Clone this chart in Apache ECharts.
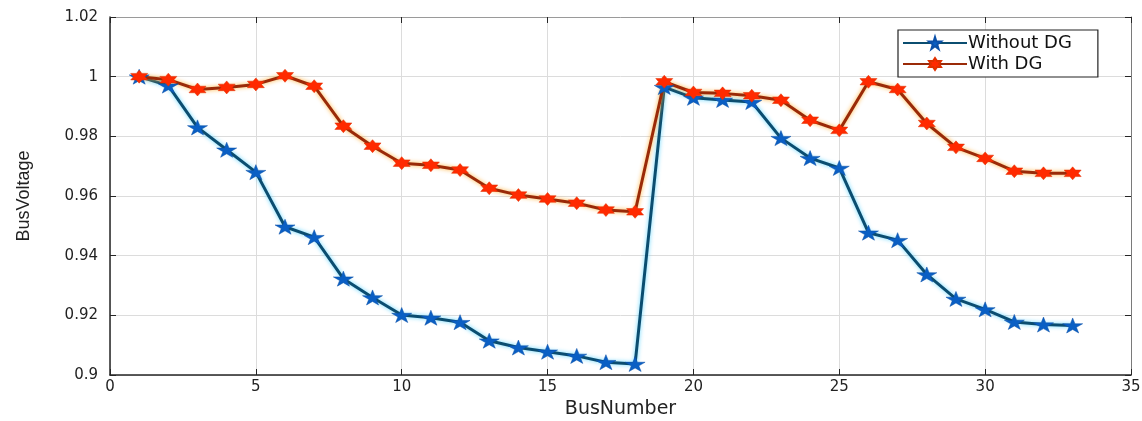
<!DOCTYPE html>
<html>
<head>
<meta charset="utf-8">
<script src="https://cdn.jsdelivr.net/npm/echarts@6/dist/echarts.min.js"></script>
<style>html,body{margin:0;padding:0;background:#fff;}#c{width:1142px;height:421px;}</style>
</head>
<body>
<div id="c"></div>
<script>
const busNumbers = [1,2,3,4,5,6,7,8,9,10,11,12,13,14,15,16,17,18,19,20,21,22,23,24,25,26,27,28,29,30,31,32,33];
const withoutDG = [1.000,0.997,0.983,0.9755,0.968,0.9497,0.9462,0.9323,0.926,0.9201,0.9192,0.9177,0.9115,0.9092,0.9078,0.9064,0.9043,0.9037,0.9965,0.9929,0.9922,0.9915,0.9794,0.9727,0.9694,0.9477,0.9452,0.9337,0.9255,0.9220,0.9178,0.9169,0.9166];
const withDG = [1.000,0.999,0.9957,0.9964,0.9974,1.0003,0.9968,0.9834,0.9767,0.971,0.9703,0.9687,0.9626,0.9603,0.959,0.9576,0.9553,0.9547,0.9983,0.9947,0.9944,0.9936,0.9921,0.9854,0.982,0.9983,0.9957,0.9843,0.9763,0.9726,0.9683,0.9676,0.9676];
const seriesNames = ['Without DG','With DG'];
const xTicks = {min:0,max:35,interval:5};
const yTicks = {min:0.9,max:1.02,interval:0.02};

const star5 = 'path://M50,0 L61,35 L98,35 L68,57 L79,91 L50,70 L21,91 L32,57 L2,35 L39,35 Z';
const star6 = 'path://M50,0 L64.4,25 L93.3,25 L78.9,50 L93.3,75 L64.4,75 L50,100 L35.6,75 L6.7,75 L21.1,50 L6.7,25 L35.6,25 Z';

const pair = (ys) => busNumbers.map((x,i)=>[x, ys[i]]);
const wideFont = '"DejaVu Sans", Verdana, sans-serif';
const arialFont = '"Liberation Sans", Arial, Helvetica, sans-serif';
const txt = '#222';

const chart = echarts.init(document.getElementById('c'), null, {renderer:'canvas'});
const baseX = {type:'value', min:xTicks.min, max:xTicks.max, interval:xTicks.interval};
const baseY = {type:'value', min:yTicks.min, max:yTicks.max, interval:yTicks.interval};
chart.setOption({
  animation:false,
  backgroundColor:'#fff',
  grid:{left:110, right:11, top:17, bottom:46, show:false, containLabel:false, outerBoundsMode:'none'},
  legend:{
    data:seriesNames, orient:'vertical', left:898, top:30,
    itemWidth:64, itemHeight:15, itemGap:3,
    padding:[4,26,4,4],
    backgroundColor:'#fff', borderColor:'#222', borderWidth:1.2,
    textStyle:{fontFamily:wideFont, fontSize:18, color:'#111', padding:[0,0,0,-4]}
  },
  xAxis:[
    Object.assign({}, baseX, {
      position:'bottom',
      name:'BusNumber', nameLocation:'middle', nameGap:25,
      nameTextStyle:{fontFamily:wideFont, fontSize:19, color:txt},
      axisLine:{show:true, onZero:false, lineStyle:{color:'#262626', width:1.5}},
      axisTick:{show:true, inside:true, length:6, lineStyle:{color:'#262626'}},
      axisLabel:{fontFamily:wideFont, fontSize:15, color:txt, margin:5},
      splitLine:{show:true, lineStyle:{color:'#dcdcdc', width:1}}
    }),
    Object.assign({}, baseX, {
      position:'top',
      axisLine:{show:true, onZero:false, lineStyle:{color:'#9a9a9a', width:1}},
      axisTick:{show:true, inside:true, length:6, lineStyle:{color:'#262626'}},
      axisLabel:{show:false}, splitLine:{show:false}
    })
  ],
  yAxis:[
    Object.assign({}, baseY, {
      position:'left',
      name:'BusVoltage', nameLocation:'middle', nameGap:77,
      nameTextStyle:{fontFamily:arialFont, fontSize:18, color:txt},
      axisLine:{show:true, onZero:false, lineStyle:{color:'#262626', width:1.5}},
      axisTick:{show:true, inside:true, length:6, lineStyle:{color:'#262626'}},
      axisLabel:{fontFamily:wideFont, fontSize:15, color:txt, margin:12,
        formatter:(v)=>String(+v.toFixed(2))},
      splitLine:{show:true, lineStyle:{color:'#dcdcdc', width:1}}
    }),
    Object.assign({}, baseY, {
      position:'right',
      axisLine:{show:true, onZero:false, lineStyle:{color:'#7a7a7a', width:1}},
      axisTick:{show:true, inside:true, length:6, lineStyle:{color:'#262626'}},
      axisLabel:{show:false}, splitLine:{show:false}
    })
  ],
  series:[
    {
      name:seriesNames[0], type:'line', data:pair(withoutDG),
      xAxisIndex:0, yAxisIndex:0,
      symbol:star5, symbolSize:[20,15],
      itemStyle:{color:'#0a5fc4', borderColor:'#0a4fa8', borderWidth:0.5},
      lineStyle:{color:'#0b4d70', width:3, shadowColor:'rgba(80,210,255,0.9)', shadowBlur:4}
    },
    {
      name:seriesNames[1], type:'line', data:pair(withDG),
      xAxisIndex:0, yAxisIndex:0,
      symbol:star6, symbolSize:[17,13],
      itemStyle:{color:'#ff2a00', borderColor:'#e03000', borderWidth:0.5},
      lineStyle:{color:'#9a2a08', width:3, shadowColor:'rgba(255,170,40,0.9)', shadowBlur:4}
    }
  ]
});
</script>
</body>
</html>
